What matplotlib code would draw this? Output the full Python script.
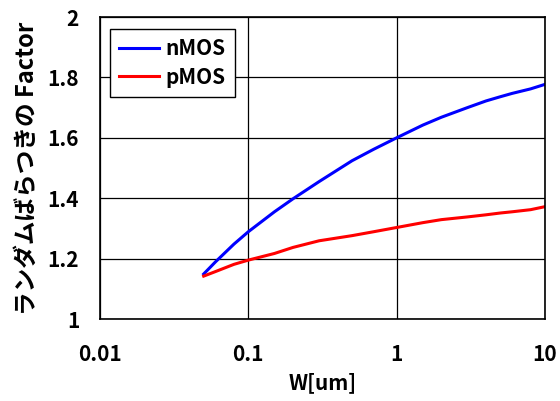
import matplotlib
matplotlib.use("Agg")
import matplotlib.pyplot as plt
from matplotlib.ticker import FixedLocator, FixedFormatter, NullLocator

plt.rcParams["font.family"] = ["Noto Sans CJK JP", "DejaVu Sans"]
plt.rcParams["font.weight"] = "bold"

# gate width sweep [um]
w_um = [0.05, 0.06, 0.08, 0.1, 0.15, 0.2, 0.3, 0.5, 0.7, 1, 1.5, 2, 3, 4, 5, 6, 8, 10]

# random-variation factor
nmos = [1.149, 1.189, 1.248, 1.289, 1.355, 1.398, 1.455, 1.524, 1.562, 1.600,
        1.642, 1.668, 1.700, 1.722, 1.736, 1.747, 1.762, 1.777]
pmos = [1.142, 1.157, 1.181, 1.195, 1.217, 1.237, 1.259, 1.276, 1.289, 1.303,
        1.319, 1.329, 1.338, 1.345, 1.351, 1.355, 1.362, 1.372]

x_ticks = [0.01, 0.1, 1, 10]
x_labels = ["0.01", "0.1", "1", "10"]
y_ticks = [1, 1.2, 1.4, 1.6, 1.8, 2]
y_labels = ["1", "1.2", "1.4", "1.6", "1.8", "2"]

fig = plt.figure(figsize=(5.6, 4.01), dpi=100)
ax = fig.add_axes([100 / 560, 82 / 401, 445 / 560, 302 / 401])

ax.plot(w_um, nmos, color="#0000ff", lw=2.2, label="nMOS")
ax.plot(w_um, pmos, color="#ff0000", lw=2.2, label="pMOS")

ax.set_xscale("log")
ax.set_xlim(0.01, 10)
ax.set_ylim(1, 2)
ax.xaxis.set_major_locator(FixedLocator(x_ticks))
ax.xaxis.set_major_formatter(FixedFormatter(x_labels))
ax.xaxis.set_minor_locator(NullLocator())
ax.yaxis.set_major_locator(FixedLocator(y_ticks))
ax.yaxis.set_major_formatter(FixedFormatter(y_labels))

# plain black grid on the decade / 0.2 steps only
ax.grid(True, color="black", lw=0.9)
ax.set_axisbelow(True)
for s in ax.spines.values():
    s.set_color("black")
    s.set_linewidth(1.2)

ax.tick_params(axis="x", length=0, pad=18, labelsize=15)
ax.tick_params(axis="y", length=0, pad=15, labelsize=15)

ax.set_xlabel("W[um]", fontsize=15, fontweight="bold", labelpad=5)
ax.set_ylabel("ランダムばらつきの Factor", fontsize=17, fontweight="bold", labelpad=6)

leg = ax.legend(loc="upper left", bbox_to_anchor=(0.0225, 0.96), borderaxespad=0,
                fontsize=15, frameon=True, fancybox=False, framealpha=1,
                edgecolor="black", handlelength=1.9, handletextpad=0.3,
                borderpad=0.45, labelspacing=0.35)
leg.get_frame().set_linewidth(1.0)

fig.savefig("out.png", dpi=100)
